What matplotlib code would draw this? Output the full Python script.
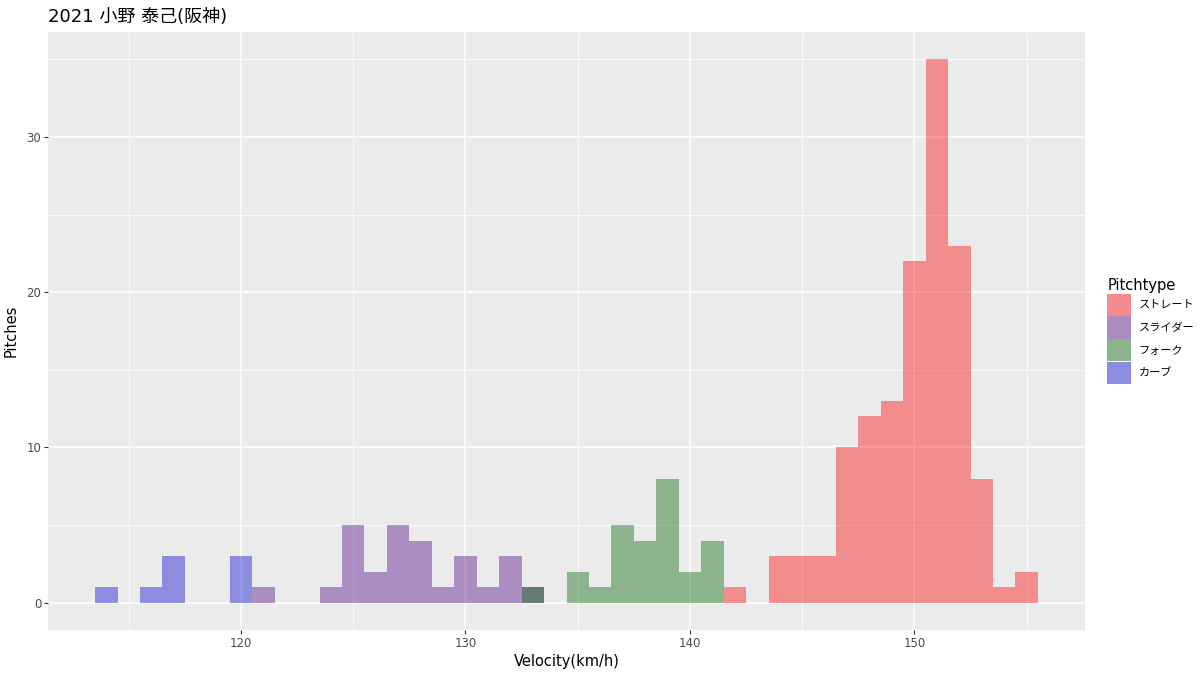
import matplotlib.pyplot as plt
from matplotlib.colors import to_rgb
from matplotlib.patches import Patch

plt.rcParams['font.family'] = ['DejaVu Sans', 'Noto Sans CJK JP']

# Pitch speed histograms, 1 km/h bins (bin centre -> count)
straight_v = [142, 144, 145, 146, 147, 148, 149, 150, 151, 152, 153, 154, 155]
straight_n = [1, 3, 3, 3, 10, 12, 13, 22, 35, 23, 8, 1, 2]
slider_v = [121, 124, 125, 126, 127, 128, 129, 130, 131, 132, 133]
slider_n = [1, 1, 5, 2, 5, 4, 1, 3, 1, 3, 1]
fork_v = [133, 135, 136, 137, 138, 139, 140, 141]
fork_n = [1, 2, 1, 5, 4, 8, 2, 4]
curve_v = [114, 116, 117, 120]
curve_n = [1, 1, 3, 3]

types = ["ストレート", "スライダー", "フォーク", "カーブ"]
colors = ["#FF0000", "#4B0082", "#006400", "#0000CD"]
series = [(straight_v, straight_n), (slider_v, slider_n), (fork_v, fork_n), (curve_v, curve_n)]
alpha = 0.4
panel = "#EBEBEB"

fig = plt.figure(figsize=(12, 6.75), dpi=100)
ax = fig.add_axes([48 / 1200, 45 / 675, 1037 / 1200, 598 / 675])
ax.set_facecolor(panel)

for (v, n), c in zip(series, colors):
    ax.bar(v, n, width=1, color=c, alpha=alpha, linewidth=0, zorder=3)

ax.set_xlim(111.4, 157.6)
ax.set_ylim(-1.75, 36.75)
ax.set_xticks([120, 130, 140, 150])
ax.set_xticks([115, 125, 135, 145, 155], minor=True)
ax.set_yticks([0, 10, 20, 30])
ax.set_yticks([5, 15, 25, 35], minor=True)
ax.grid(which="major", color="white", linewidth=1.1, zorder=1)
ax.grid(which="minor", color="white", linewidth=0.55, zorder=1)
for s in ax.spines.values():
    s.set_visible(False)
ax.tick_params(which="major", length=2.75, width=0.8, color="#333333",
               labelsize=8.5, labelcolor="#4D4D4D", pad=2)
ax.tick_params(which="minor", length=0)

ax.set_xlabel("Velocity(km/h)", fontsize=10.5, labelpad=3)
ax.set_ylabel("Pitches", fontsize=10.5, labelpad=6)
ax.set_title("2021 小野 泰己(阪神)", fontsize=13, loc="left", pad=7)

# legend keys look like the bars drawn over the grey panel
def over_panel(c):
    fg, bg = to_rgb(c), to_rgb(panel)
    return tuple(alpha * f + (1 - alpha) * b for f, b in zip(fg, bg))

handles = [Patch(facecolor=over_panel(c), edgecolor="none") for c in colors]
leg = ax.legend(handles, types, title="Pitchtype", loc="center left",
                bbox_to_anchor=(1.012, 0.5), frameon=False, fontsize=8,
                title_fontsize=10.5, handlelength=2.1, handleheight=2.7,
                labelspacing=0.05, handletextpad=0.7, borderaxespad=0.5)
leg._legend_box.align = "left"

fig.savefig("out.png", dpi=100)
